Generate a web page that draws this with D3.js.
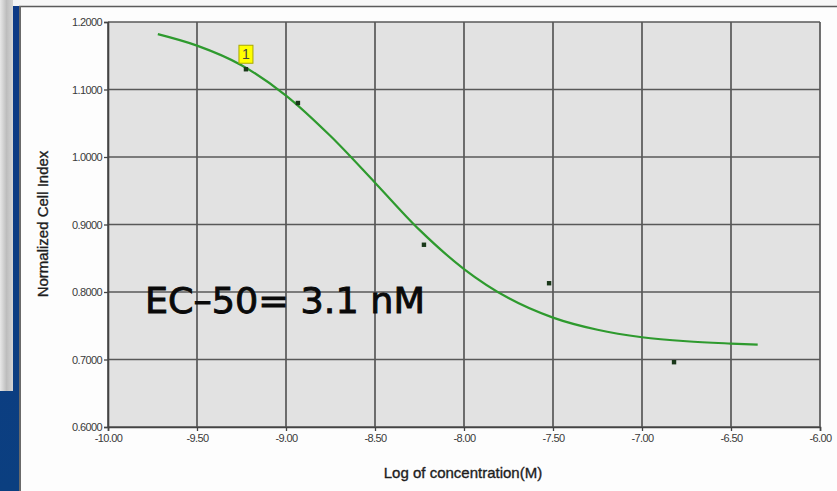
<!DOCTYPE html>
<html>
<head>
<meta charset="utf-8">
<script src="https://cdn.jsdelivr.net/npm/d3@7"></script>
<style>
  html, body { margin: 0; padding: 0; background: #ffffff; }
  svg { display: block; }
</style>
</head>
<body>
<svg id="chart" width="837" height="491"></svg>
<script>
// Measured wells: log10 of concentration (M) and normalized cell index
const doseLogConc = [-9.225, -8.933, -8.225, -7.522, -6.82];
const cellIndex = [1.130, 1.080, 0.870, 0.813, 0.696];

// Fitted dose-response curve, sampled along the concentration axis
const fitLogConc = [-9.72, -9.5, -9.25, -9.0, -8.75, -8.5, -8.25, -8.0, -7.75, -7.5, -7.25, -7.0, -6.75, -6.5, -6.35];
const fitCellIndex = [1.182, 1.165, 1.136, 1.091, 1.031, 0.962, 0.892, 0.834, 0.791, 0.762, 0.744, 0.733, 0.727, 0.7236, 0.722];

// Axis ticks
const xTickValues = [-10, -9.5, -9, -8.5, -8, -7.5, -7, -6.5, -6];
const yTickValues = [0.6, 0.7, 0.8, 0.9, 1.0, 1.1, 1.2];

// Annotation
const ec50Label = "EC\u201350= 3.1 nM";
const pointFlag = "1";

const svg = d3.select("#chart");
const W = 837, H = 491;

const x = d3.scaleLinear().domain([-10, -6]).range([108, 820]);
const y = d3.scaleLinear().domain([0.6, 1.2]).range([427, 22]);

// ---- page backdrop ----
const defs = svg.append("defs");
const sideGrad = defs.append("linearGradient").attr("id", "sideGrad")
  .attr("x1", 0).attr("x2", 1).attr("y1", 0).attr("y2", 0);
sideGrad.append("stop").attr("offset", "0%").attr("stop-color", "#e8e8e8");
sideGrad.append("stop").attr("offset", "50%").attr("stop-color", "#bdbdbd");
sideGrad.append("stop").attr("offset", "100%").attr("stop-color", "#d4d4d4");
const blueGrad = defs.append("linearGradient").attr("id", "blueGrad")
  .attr("x1", 0).attr("x2", 0).attr("y1", 0).attr("y2", 1);
blueGrad.append("stop").attr("offset", "0%").attr("stop-color", "#0d3a86");
blueGrad.append("stop").attr("offset", "100%").attr("stop-color", "#0b3f80");
defs.append("filter").attr("id", "soft")
  .append("feGaussianBlur").attr("stdDeviation", 0.5);

svg.append("rect").attr("x", 0).attr("y", 0).attr("width", W).attr("height", H).attr("fill", "#f7f7f7");
svg.append("rect").attr("x", 0).attr("y", 6).attr("width", 20).attr("height", H - 6).attr("fill", "url(#blueGrad)");
svg.append("rect").attr("x", 0).attr("y", 0).attr("width", 13).attr("height", 391).attr("fill", "url(#sideGrad)");
svg.append("rect").attr("x", 13).attr("y", 0).attr("width", 7).attr("height", 6).attr("fill", "#f4f4f4");

// chart panel
svg.append("rect").attr("x", 20).attr("y", 6).attr("width", W - 20).attr("height", H - 6).attr("fill", "#fdfdfd");
svg.append("line").attr("x1", 19).attr("x2", W).attr("y1", 6.5).attr("y2", 6.5)
  .attr("stroke", "#5a5a5a").attr("stroke-width", 1.5);
svg.append("line").attr("x1", 20).attr("x2", 20).attr("y1", 6).attr("y2", H)
  .attr("stroke", "#6a6a6a").attr("stroke-width", 2);

// ---- plot area ----
const plot = svg.append("g");
plot.append("rect")
  .attr("x", x(-10)).attr("y", y(1.2))
  .attr("width", x(-6) - x(-10)).attr("height", y(0.6) - y(1.2))
  .attr("fill", "#e2e2e2");

const grid = plot.append("g").attr("filter", "url(#soft)");
grid.selectAll(".vgrid").data(xTickValues).join("line")
  .attr("x1", d => x(d)).attr("x2", d => x(d))
  .attr("y1", y(1.2)).attr("y2", y(0.6))
  .attr("stroke", "#585858").attr("stroke-width", 1.7);
grid.selectAll(".hgrid").data(yTickValues).join("line")
  .attr("x1", x(-10)).attr("x2", x(-6))
  .attr("y1", d => y(d)).attr("y2", d => y(d))
  .attr("stroke", "#585858").attr("stroke-width", 1.7);

// axes
const yAxis = d3.axisLeft(y).tickValues(yTickValues).tickFormat(d3.format(".4f"))
  .tickSize(4).tickPadding(2);
const xAxis = d3.axisBottom(x).tickValues(xTickValues).tickFormat(d3.format(".2f"))
  .tickSize(4).tickPadding(3);

const gy = svg.append("g").attr("transform", `translate(${x(-10)},0)`).call(yAxis);
const gx = svg.append("g").attr("transform", `translate(0,${y(0.6)})`).call(xAxis);
[gx, gy].forEach(g => {
  g.select(".domain").attr("stroke", "#444").attr("stroke-width", 1.6);
  g.selectAll(".tick line").attr("stroke", "#444").attr("stroke-width", 1.3);
  g.selectAll(".tick text")
    .attr("fill", "#3a3a3a")
    .attr("font-family", "'Liberation Sans', Arial, sans-serif")
    .attr("font-size", 11)
    .attr("letter-spacing", -0.6);
});
gx.selectAll(".tick text").text(d => d3.format(".2f")(d).replace("\u2212", "-"));
gy.selectAll(".tick text").text(d => d3.format(".4f")(d));

// axis titles
const titleStyle = sel => sel
  .attr("text-anchor", "middle")
  .attr("font-family", "'Liberation Sans', Arial, sans-serif")
  .attr("font-size", 15)
  .attr("fill", "#1e1e1e")
  .attr("stroke", "#1e1e1e")
  .attr("stroke-width", 0.35);
svg.append("text")
  .attr("x", 463).attr("y", 478)
  .call(titleStyle)
  .text("Log of concentration(M)");
svg.append("text")
  .attr("transform", "translate(48,224) rotate(-90)")
  .call(titleStyle)
  .text("Normalized Cell Index");

// fitted curve
const line = d3.line().x((d, i) => x(fitLogConc[i])).y(d => y(d)).curve(d3.curveMonotoneX);
svg.append("path")
  .datum(fitCellIndex)
  .attr("d", line)
  .attr("fill", "none")
  .attr("stroke", "#2e9a2e")
  .attr("stroke-width", 2.2);

// measured points
svg.selectAll(".pt").data(cellIndex).join("rect")
  .attr("x", (d, i) => x(doseLogConc[i]) - 2.2)
  .attr("y", d => y(d) - 2.2)
  .attr("width", 4.4).attr("height", 4.4)
  .attr("fill", "#1a381a");

// point flag on the first well
const fx = x(doseLogConc[0]), fy = y(cellIndex[0]);
svg.append("rect")
  .attr("x", fx - 7).attr("y", fy - 24)
  .attr("width", 14).attr("height", 18)
  .attr("fill", "#ffff00").attr("stroke", "#a8a800").attr("stroke-width", 1);
svg.append("text")
  .attr("x", fx).attr("y", fy - 10)
  .attr("text-anchor", "middle")
  .attr("font-family", "'Liberation Sans', Arial, sans-serif")
  .attr("font-size", 14)
  .attr("fill", "#444")
  .text(pointFlag);

// EC-50 annotation
svg.append("text")
  .attr("x", 145).attr("y", 313)
  .attr("font-family", "'DejaVu Sans', Verdana, sans-serif")
  .attr("font-size", 35)
  .attr("fill", "#0a0a0a")
  .attr("stroke", "#0a0a0a")
  .attr("stroke-width", 0.9)
  .attr("textLength", 280)
  .attr("lengthAdjust", "spacingAndGlyphs")
  .text(ec50Label);
</script>
</body>
</html>
